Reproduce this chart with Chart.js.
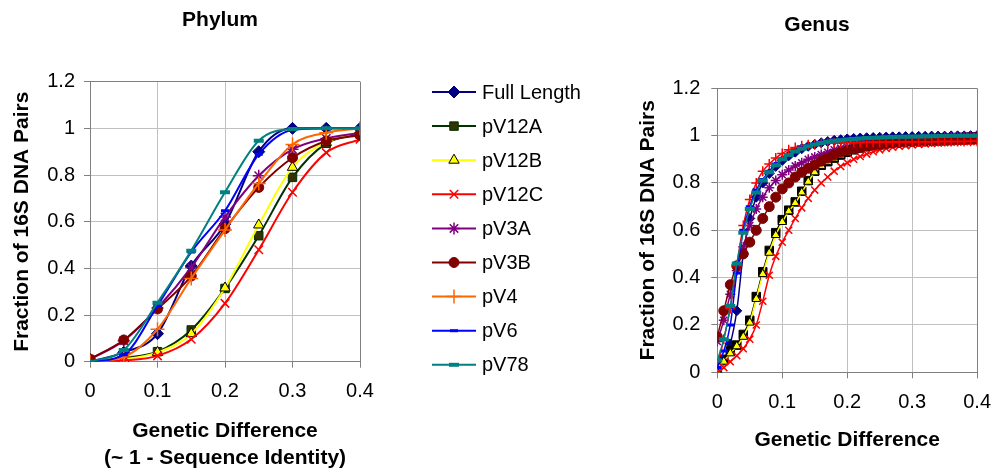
<!DOCTYPE html>
<html>
<head>
<meta charset="utf-8">
<script src="https://cdn.jsdelivr.net/npm/chart.js@4.4.1/dist/chart.umd.min.js"></script>
<style>
  body { margin: 0; background: #fff; width: 1003px; height: 472px; position: relative; overflow: hidden; }
  #phylum { position: absolute; left: 0; top: 0; }
  #genus { position: absolute; left: 620px; top: 0; }
</style>
</head>
<body>
<canvas id="phylum" width="620" height="472"></canvas>
<canvas id="genus" width="383" height="472"></canvas>
<script>
// ---- data ----
const seriesNames = ['Full Length', 'pV12A', 'pV12B', 'pV12C', 'pV3A', 'pV3B', 'pV4', 'pV6', 'pV78'];
const yTickLabels = ['0', '0.2', '0.4', '0.6', '0.8', '1', '1.2'];
const xTickLabels = ['0', '0.1', '0.2', '0.3', '0.4'];

const phylumX = [0, 0.05, 0.1, 0.15, 0.2, 0.25, 0.3, 0.35, 0.4];
const phylumFullLength = [0, 0.04, 0.12, 0.41, 0.59, 0.90, 1.0, 1.0, 1.0];
const phylumPV12A = [0, 0.017, 0.043, 0.136, 0.314, 0.54, 0.79, 0.936, 0.976];
const phylumPV12B = [0, 0.01, 0.04, 0.12, 0.316, 0.586, 0.833, 0.94, 0.986];
const phylumPV12C = [0, 0.005, 0.025, 0.096, 0.25, 0.48, 0.726, 0.896, 0.953];
const phylumPV3A = [0.01, 0.09, 0.23, 0.404, 0.62, 0.797, 0.91, 0.957, 0.98];
const phylumPV3B = [0.011, 0.093, 0.226, 0.367, 0.57, 0.747, 0.874, 0.946, 0.971];
const phylumPV4 = [0, 0.02, 0.139, 0.357, 0.564, 0.764, 0.931, 0.981, 1.0];
const phylumPV6 = [0, 0.03, 0.24, 0.47, 0.647, 0.889, 0.993, 1.0, 1.0];
const phylumPV78 = [0, 0.05, 0.253, 0.476, 0.726, 0.947, 0.997, 1.0, 1.0];

const genusX = [0, 0.01, 0.02, 0.03, 0.04, 0.05, 0.06, 0.07, 0.08, 0.09,
  0.1, 0.11, 0.12, 0.13, 0.14, 0.15, 0.16, 0.17, 0.18, 0.19,
  0.2, 0.21, 0.22, 0.23, 0.24, 0.25, 0.26, 0.27, 0.28, 0.29,
  0.3, 0.31, 0.32, 0.33, 0.34, 0.35, 0.36, 0.37, 0.38, 0.39, 0.4];
const genusFullLength = [0, 0.05, 0.12, 0.26, 0.5, 0.65, 0.74, 0.8, 0.84, 0.87,
  0.895, 0.915, 0.93, 0.945, 0.955, 0.963, 0.97, 0.975, 0.98, 0.983,
  0.986, 0.988, 0.99, 0.991, 0.992, 0.993, 0.994, 0.995, 0.995, 0.996,
  0.996, 0.997, 0.997, 0.998, 0.998, 0.998, 0.999, 0.999, 0.999, 1.0, 1.0];
const genusPV12A = [0, 0.055, 0.09, 0.115, 0.16, 0.22, 0.32, 0.425, 0.515, 0.59,
  0.645, 0.685, 0.72, 0.765, 0.81, 0.85, 0.875, 0.89, 0.905, 0.918,
  0.93, 0.94, 0.948, 0.955, 0.96, 0.964, 0.968, 0.971, 0.974, 0.977,
  0.979, 0.981, 0.983, 0.985, 0.987, 0.988, 0.99, 0.991, 0.992, 0.993, 0.994];
const genusPV12B = [0, 0.045, 0.08, 0.11, 0.15, 0.21, 0.31, 0.415, 0.505, 0.58,
  0.635, 0.68, 0.715, 0.76, 0.805, 0.845, 0.872, 0.888, 0.903, 0.916,
  0.928, 0.938, 0.946, 0.953, 0.958, 0.962, 0.966, 0.969, 0.972, 0.975,
  0.977, 0.979, 0.981, 0.983, 0.985, 0.986, 0.988, 0.989, 0.99, 0.991, 0.992];
const genusPV12C = [0, 0.02, 0.045, 0.07, 0.1, 0.14, 0.2, 0.3, 0.41, 0.49,
  0.55, 0.6, 0.65, 0.695, 0.735, 0.77, 0.8, 0.825, 0.85, 0.87,
  0.885, 0.9, 0.912, 0.922, 0.932, 0.94, 0.946, 0.951, 0.955, 0.958,
  0.961, 0.963, 0.965, 0.967, 0.969, 0.97, 0.972, 0.973, 0.974, 0.975, 0.976];
const genusPV3A = [0.13, 0.22, 0.33, 0.43, 0.53, 0.62, 0.69, 0.74, 0.78, 0.81,
  0.835, 0.855, 0.872, 0.885, 0.9, 0.91, 0.92, 0.93, 0.94, 0.947,
  0.953, 0.958, 0.962, 0.966, 0.97, 0.973, 0.976, 0.978, 0.981, 0.983,
  0.985, 0.987, 0.989, 0.991, 0.992, 0.994, 0.995, 0.996, 0.997, 0.998, 0.999];
const genusPV3B = [0.15, 0.26, 0.37, 0.45, 0.5, 0.55, 0.6, 0.65, 0.7, 0.74,
  0.775, 0.8, 0.825, 0.845, 0.862, 0.876, 0.892, 0.905, 0.918, 0.93,
  0.938, 0.945, 0.95, 0.955, 0.96, 0.963, 0.966, 0.969, 0.971, 0.973,
  0.975, 0.976, 0.977, 0.978, 0.979, 0.98, 0.981, 0.982, 0.983, 0.984, 0.985];
const genusPV4 = [0.02, 0.14, 0.27, 0.45, 0.62, 0.73, 0.8, 0.85, 0.88, 0.905,
  0.925, 0.94, 0.95, 0.957, 0.962, 0.965, 0.967, 0.968, 0.969, 0.97,
  0.97, 0.971, 0.971, 0.972, 0.972, 0.972, 0.973, 0.973, 0.973, 0.973,
  0.974, 0.974, 0.974, 0.974, 0.975, 0.975, 0.975, 0.975, 0.975, 0.976, 0.976];
const genusPV6 = [0.02, 0.09, 0.2, 0.42, 0.6, 0.7, 0.77, 0.815, 0.85, 0.88,
  0.9, 0.92, 0.935, 0.948, 0.958, 0.965, 0.972, 0.977, 0.981, 0.984,
  0.987, 0.989, 0.99, 0.991, 0.992, 0.993, 0.994, 0.995, 0.995, 0.996,
  0.996, 0.997, 0.997, 0.998, 0.998, 0.998, 0.999, 0.999, 0.999, 1.0, 1.0];
const genusPV78 = [0.05, 0.14, 0.28, 0.46, 0.59, 0.69, 0.76, 0.81, 0.845, 0.875,
  0.9, 0.918, 0.933, 0.945, 0.955, 0.963, 0.969, 0.974, 0.978, 0.981,
  0.984, 0.986, 0.988, 0.99, 0.991, 0.992, 0.993, 0.994, 0.995, 0.995,
  0.996, 0.996, 0.997, 0.997, 0.998, 0.998, 0.999, 0.999, 0.999, 1.0, 1.0];

// ---- styles (line colour, marker fill, marker edge, marker, radius, marker border width) ----
const phylumStyles = [
  ['#000080', '#000080', '#000080', 'rectRot', 6, 1],
  ['#003300', '#333300', '#003300', 'rect', 6, 1],
  ['#ffff00', '#ffff00', '#000000', 'triangle', 6, 1],
  ['#ff0000', '#ff0000', '#ff0000', 'crossRot', 6, 1.5],
  ['#800080', '#800080', '#800080', 'star', 6, 1.5],
  ['#800000', '#800000', '#800000', 'circle', 5, 1],
  ['#ff6600', '#ff6600', '#ff6600', 'cross', 7, 1.5],
  ['#0000ff', '#0000ff', '#0000ff', 'line', 4, 3],
  ['#008080', '#008080', '#008080', 'line', 5, 4]
];
const genusStyles = [
  ['#000080', '#000080', '#000080', 'rectRot', 5, 1],
  ['#000000', '#000000', '#000000', 'rect', 6, 1],
  ['#ffff00', '#ffff00', '#000000', 'triangle', 5, 1],
  ['#ff0000', '#ff0000', '#ff0000', 'crossRot', 5, 1.5],
  ['#800080', '#800080', '#800080', 'star', 5, 1.5],
  ['#800000', '#800000', '#800000', 'circle', 5, 1],
  ['#ff0000', '#ff0000', '#ff0000', 'cross', 5, 1.5],
  ['#0000ff', '#0000ff', '#0000ff', 'line', 4, 3],
  ['#008080', '#008080', '#008080', 'line', 5, 4]
];

const FONT = 'Arial, "Liberation Sans", sans-serif';

function makeDatasets(values, styles, lineWidth) {
  return values.map(function (v, i) {
    const s = styles[i];
    return {
      label: seriesNames[i],
      data: v,
      borderColor: s[0],
      borderWidth: lineWidth,
      pointBackgroundColor: s[1],
      pointBorderColor: s[2],
      pointStyle: s[3],
      pointRadius: s[4],
      pointBorderWidth: s[5],
      cubicInterpolationMode: 'monotone',
      fill: false,
      order: values.length - i
    };
  });
}

// title drawn above the plot, centred on the whole chart object
const chartTitle = {
  id: 'chartTitle',
  afterDraw(chart, args, opts) {
    const ctx = chart.ctx;
    ctx.save();
    ctx.font = 'bold 21px ' + FONT;
    ctx.fillStyle = '#000';
    ctx.textAlign = 'center';
    ctx.textBaseline = 'middle';
    ctx.fillText(opts.text, opts.x, opts.y);
    ctx.restore();
  }
};

// legend with a short line + marker, like the spreadsheet one
const lineLegend = {
  id: 'lineLegend',
  afterDraw(chart, args, opts) {
    if (!opts.show) return;
    const ctx = chart.ctx;
    ctx.save();
    chart.data.datasets.forEach(function (ds, i) {
      const y = opts.top + i * opts.step;
      ctx.strokeStyle = ds.borderColor;
      ctx.lineWidth = 2;
      ctx.beginPath();
      ctx.moveTo(opts.x0, y);
      ctx.lineTo(opts.x1, y);
      ctx.stroke();
      ctx.fillStyle = ds.pointBackgroundColor;
      ctx.strokeStyle = ds.pointBorderColor;
      ctx.lineWidth = ds.pointBorderWidth;
      Chart.helpers.drawPoint(ctx, {
        pointStyle: ds.pointStyle, rotation: 0,
        radius: ds.pointRadius, borderWidth: ds.pointBorderWidth
      }, (opts.x0 + opts.x1) / 2, y);
      ctx.fillStyle = '#000';
      ctx.font = '20px ' + FONT;
      ctx.textAlign = 'left';
      ctx.textBaseline = 'middle';
      ctx.fillText(ds.label, opts.x1 + 6, y + 1);
    });
    ctx.restore();
  }
};

function gridColor(last) {
  return function (c) { return c.tick && Math.abs(c.tick.value - last) < 1e-9 ? '#808080' : '#c0c0c0'; };
}

function buildChart(id, xs, datasets, g) {
  return new Chart(document.getElementById(id), {
    type: 'line',
    data: { labels: xs, datasets: datasets },
    options: {
      responsive: false,
      animation: false,
      layout: { padding: { left: 0, top: g.top, right: g.right, bottom: 0 } },
      plugins: {
        legend: { display: false },
        tooltip: { enabled: false },
        chartTitle: { text: g.title, x: g.titleX, y: g.titleY },
        lineLegend: { show: g.legend, x0: 432, x1: 476, top: 92, step: 34.1 }
      },
      scales: {
        x: {
          type: 'linear', min: 0, max: 0.4,
          afterFit: function (s) { s.height = g.xHeight; },
          ticks: {
            stepSize: 0.1, padding: g.xPad, color: '#000',
            font: { family: FONT, size: 20 },
            maxRotation: 0,
            callback: function (v, i) { return xTickLabels[i]; }
          },
          grid: { color: gridColor(0.4), tickColor: '#808080', tickLength: 6 },
          border: { color: '#808080' },
          title: {
            display: true, text: g.xTitle, color: '#000',
            font: { family: FONT, size: 21, weight: 'bold', lineHeight: 1.3 },
            padding: { top: 0, bottom: g.xTitlePad }
          }
        },
        y: {
          min: 0, max: 1.2,
          afterFit: function (s) { s.width = g.yWidth; },
          ticks: {
            stepSize: 0.2, padding: g.yPad, color: '#000',
            font: { family: FONT, size: 20 },
            callback: function (v, i) { return yTickLabels[i]; }
          },
          grid: { color: gridColor(1.2), tickColor: '#808080', tickLength: 6 },
          border: { color: '#808080' },
          title: {
            display: true, text: 'Fraction of 16S DNA Pairs', color: '#000',
            font: { family: FONT, size: 21, weight: 'bold' },
            padding: { top: g.yTitlePad, bottom: 0 }
          }
        }
      }
    },
    plugins: [chartTitle, lineLegend]
  });
}

buildChart('phylum', phylumX,
  makeDatasets([phylumFullLength, phylumPV12A, phylumPV12B, phylumPV12C, phylumPV3A,
    phylumPV3B, phylumPV4, phylumPV6, phylumPV78], phylumStyles, 2),
  { title: 'Phylum', titleX: 220, titleY: 20, legend: true,
    top: 81.7, right: 260, yWidth: 90, xHeight: 110.3,
    xPad: 12, yPad: 9, yTitlePad: 9.4, xTitlePad: 0,
    xTitle: ['Genetic Difference', '(~ 1 - Sequence Identity)'] });

buildChart('genus', genusX,
  makeDatasets([genusFullLength, genusPV12A, genusPV12B, genusPV12C, genusPV3A,
    genusPV3B, genusPV4, genusPV6, genusPV78], genusStyles, 1.5),
  { title: 'Genus', titleX: 197, titleY: 25, legend: false,
    top: 88.3, right: 16.3, yWidth: 97.3, xHeight: 99.7,
    xPad: 12, yPad: 11, yTitlePad: 15.4, xTitlePad: 18.3,
    xTitle: 'Genetic Difference' });
</script>
</body>
</html>
